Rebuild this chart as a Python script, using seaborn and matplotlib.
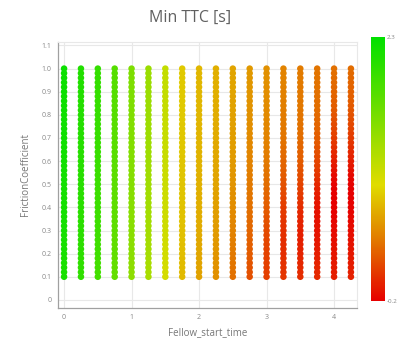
import numpy as np
import pandas as pd
import matplotlib
matplotlib.use("Agg")
import matplotlib.pyplot as plt
from matplotlib.colors import LinearSegmentedColormap, Normalize
from matplotlib.cm import ScalarMappable
import seaborn as sns

# ---------------- data ----------------
fellow_start_time = [0.0, 0.25, 0.5, 0.75, 1.0, 1.25, 1.5, 1.75, 2.0,
                     2.25, 2.5, 2.75, 3.0, 3.25, 3.5, 3.75, 4.0, 4.25]

friction_coefficient = [0.10, 0.12, 0.14, 0.16, 0.18, 0.20, 0.22, 0.24, 0.26, 0.28,
                        0.30, 0.32, 0.34, 0.36, 0.38, 0.40, 0.42, 0.44, 0.46, 0.48,
                        0.50, 0.52, 0.54, 0.56, 0.58, 0.60, 0.62, 0.64, 0.66, 0.68,
                        0.70, 0.72, 0.74, 0.76, 0.78, 0.80, 0.82, 0.84, 0.86, 0.88,
                        0.90, 0.92, 0.94, 0.96, 0.98, 1.00]

# Min TTC per column (bottom -> top)
ttc_t000 = [2.15, 2.15, 2.15, 2.15, 2.15, 2.16, 2.16, 2.16, 2.16, 2.16,
            2.17, 2.17, 2.17, 2.17, 2.17, 2.18, 2.18, 2.18, 2.18, 2.18,
            2.19, 2.19, 2.19, 2.19, 2.19, 2.20, 2.20, 2.20, 2.20, 2.20,
            2.21, 2.21, 2.21, 2.21, 2.21, 2.22, 2.22, 2.22, 2.22, 2.22,
            2.23, 2.23, 2.23, 2.23, 2.23, 2.23]
ttc_t025 = [2.00, 2.00, 2.00, 2.00, 2.00, 2.02, 2.02, 2.02, 2.02, 2.02,
            2.03, 2.03, 2.03, 2.03, 2.03, 2.04, 2.04, 2.04, 2.04, 2.04,
            2.05, 2.05, 2.05, 2.05, 2.05, 2.06, 2.06, 2.06, 2.06, 2.06,
            2.07, 2.07, 2.07, 2.07, 2.07, 2.08, 2.08, 2.08, 2.08, 2.08,
            2.09, 2.09, 2.09, 2.09, 2.09, 2.09]
ttc_t050 = [1.88, 1.88, 1.88, 1.88, 1.88, 1.90, 1.90, 1.90, 1.90, 1.90,
            1.91, 1.91, 1.91, 1.91, 1.91, 1.92, 1.92, 1.92, 1.92, 1.92,
            1.93, 1.93, 1.93, 1.93, 1.93, 1.94, 1.94, 1.94, 1.94, 1.94,
            1.95, 1.95, 1.95, 1.95, 1.95, 1.96, 1.96, 1.96, 1.96, 1.96,
            1.97, 1.97, 1.97, 1.97, 1.97, 1.97]
ttc_t075 = [1.68, 1.68, 1.68, 1.68, 1.68, 1.70, 1.70, 1.70, 1.70, 1.70,
            1.71, 1.71, 1.71, 1.71, 1.71, 1.72, 1.72, 1.72, 1.72, 1.72,
            1.73, 1.73, 1.73, 1.73, 1.73, 1.74, 1.74, 1.74, 1.74, 1.74,
            1.75, 1.75, 1.75, 1.75, 1.75, 1.76, 1.76, 1.76, 1.76, 1.76,
            1.77, 1.77, 1.77, 1.77, 1.77, 1.77]
ttc_t100 = [1.42, 1.42, 1.42, 1.42, 1.42, 1.44, 1.44, 1.44, 1.44, 1.44,
            1.45, 1.45, 1.45, 1.45, 1.45, 1.46, 1.46, 1.46, 1.46, 1.46,
            1.47, 1.47, 1.47, 1.47, 1.47, 1.48, 1.48, 1.48, 1.48, 1.48,
            1.49, 1.49, 1.49, 1.49, 1.49, 1.50, 1.50, 1.50, 1.50, 1.50,
            1.51, 1.51, 1.51, 1.51, 1.51, 1.51]
ttc_t125 = [1.25, 1.25, 1.25, 1.25, 1.25, 1.27, 1.27, 1.27, 1.27, 1.27,
            1.28, 1.28, 1.28, 1.28, 1.28, 1.29, 1.29, 1.29, 1.29, 1.29,
            1.30, 1.30, 1.30, 1.30, 1.30, 1.31, 1.31, 1.31, 1.31, 1.31,
            1.32, 1.32, 1.32, 1.32, 1.32, 1.33, 1.33, 1.33, 1.33, 1.33,
            1.34, 1.34, 1.34, 1.34, 1.34, 1.34]
ttc_t150 = [0.98, 0.98, 0.98, 0.99, 0.99, 1.00, 1.00, 1.00, 1.01, 1.01,
            1.02, 1.02, 1.02, 1.02, 1.02, 1.03, 1.03, 1.03, 1.03, 1.03,
            1.04, 1.04, 1.04, 1.04, 1.04, 1.05, 1.05, 1.05, 1.05, 1.05,
            1.06, 1.06, 1.06, 1.06, 1.06, 1.07, 1.07, 1.07, 1.07, 1.07,
            1.08, 1.08, 1.08, 1.08, 1.08, 1.08]
ttc_t175 = [0.72, 0.72, 0.73, 0.73, 0.73, 0.74, 0.74, 0.74, 0.75, 0.75,
            0.75, 0.75, 0.76, 0.76, 0.76, 0.76, 0.77, 0.77, 0.77, 0.77,
            0.77, 0.78, 0.78, 0.78, 0.78, 0.78, 0.78, 0.79, 0.79, 0.79,
            0.79, 0.79, 0.79, 0.79, 0.80, 0.80, 0.80, 0.80, 0.80, 0.80,
            0.80, 0.80, 0.80, 0.80, 0.80, 0.80]
ttc_t200 = [0.60, 0.60, 0.61, 0.61, 0.62, 0.62, 0.63, 0.63, 0.63, 0.64,
            0.64, 0.64, 0.65, 0.65, 0.65, 0.66, 0.66, 0.66, 0.66, 0.67,
            0.67, 0.67, 0.67, 0.68, 0.68, 0.68, 0.68, 0.68, 0.69, 0.69,
            0.69, 0.69, 0.69, 0.69, 0.70, 0.70, 0.70, 0.70, 0.70, 0.70,
            0.70, 0.70, 0.70, 0.70, 0.70, 0.70]
ttc_t225 = [0.50, 0.51, 0.51, 0.52, 0.52, 0.53, 0.54, 0.54, 0.55, 0.55,
            0.56, 0.56, 0.57, 0.57, 0.58, 0.58, 0.59, 0.59, 0.60, 0.60,
            0.61, 0.61, 0.61, 0.62, 0.62, 0.62, 0.63, 0.63, 0.63, 0.63,
            0.64, 0.64, 0.64, 0.64, 0.65, 0.65, 0.65, 0.65, 0.65, 0.66,
            0.66, 0.66, 0.66, 0.66, 0.66, 0.66]
ttc_t250 = [0.33, 0.34, 0.35, 0.36, 0.37, 0.38, 0.39, 0.40, 0.41, 0.42,
            0.43, 0.44, 0.45, 0.46, 0.47, 0.48, 0.49, 0.50, 0.50, 0.51,
            0.52, 0.53, 0.53, 0.54, 0.55, 0.55, 0.56, 0.56, 0.57, 0.57,
            0.58, 0.58, 0.58, 0.59, 0.59, 0.59, 0.60, 0.60, 0.60, 0.60,
            0.61, 0.61, 0.61, 0.61, 0.61, 0.61]
ttc_t275 = [0.18, 0.19, 0.20, 0.21, 0.22, 0.23, 0.24, 0.25, 0.26, 0.27,
            0.28, 0.29, 0.30, 0.31, 0.32, 0.33, 0.34, 0.35, 0.36, 0.37,
            0.38, 0.39, 0.40, 0.41, 0.42, 0.43, 0.44, 0.45, 0.46, 0.46,
            0.47, 0.48, 0.49, 0.49, 0.50, 0.51, 0.51, 0.52, 0.52, 0.53,
            0.53, 0.54, 0.54, 0.54, 0.55, 0.55]
ttc_t300 = [0.10, 0.10, 0.10, 0.11, 0.11, 0.12, 0.12, 0.13, 0.14, 0.15,
            0.16, 0.17, 0.19, 0.20, 0.22, 0.23, 0.25, 0.26, 0.28, 0.29,
            0.31, 0.32, 0.34, 0.35, 0.36, 0.38, 0.39, 0.40, 0.41, 0.42,
            0.43, 0.44, 0.45, 0.45, 0.46, 0.47, 0.47, 0.48, 0.48, 0.49,
            0.49, 0.49, 0.50, 0.50, 0.50, 0.50]
ttc_t325 = [0.06, 0.05, 0.04, 0.03, 0.03, 0.02, 0.02, 0.02, 0.02, 0.03,
            0.03, 0.04, 0.05, 0.06, 0.08, 0.09, 0.11, 0.13, 0.15, 0.17,
            0.19, 0.21, 0.23, 0.25, 0.27, 0.28, 0.30, 0.31, 0.32, 0.34,
            0.35, 0.36, 0.37, 0.38, 0.39, 0.39, 0.40, 0.41, 0.41, 0.42,
            0.42, 0.42, 0.43, 0.43, 0.43, 0.43]
ttc_t350 = [0.02, 0.01, 0.00, -0.01, -0.02, -0.03, -0.04, -0.04, -0.05, -0.05,
            -0.05, -0.04, -0.03, -0.02, -0.01, 0.01, 0.03, 0.05, 0.08, 0.10,
            0.12, 0.15, 0.17, 0.19, 0.21, 0.23, 0.25, 0.26, 0.28, 0.29,
            0.31, 0.32, 0.33, 0.34, 0.35, 0.35, 0.36, 0.37, 0.37, 0.38,
            0.38, 0.38, 0.39, 0.39, 0.39, 0.39]
ttc_t375 = [0.00, -0.01, -0.02, -0.03, -0.05, -0.06, -0.07, -0.08, -0.09, -0.10,
            -0.11, -0.11, -0.12, -0.12, -0.12, -0.11, -0.10, -0.08, -0.06, -0.04,
            -0.01, 0.02, 0.05, 0.08, 0.11, 0.13, 0.16, 0.18, 0.20, 0.22,
            0.24, 0.25, 0.27, 0.28, 0.29, 0.30, 0.31, 0.32, 0.32, 0.33,
            0.33, 0.34, 0.34, 0.35, 0.35, 0.35]
ttc_t400 = [-0.05, -0.06, -0.07, -0.08, -0.09, -0.10, -0.11, -0.12, -0.13, -0.14,
            -0.15, -0.16, -0.17, -0.18, -0.19, -0.19, -0.20, -0.20, -0.20, -0.20,
            -0.19, -0.17, -0.15, -0.12, -0.09, -0.06, -0.03, 0.00, 0.03, 0.06,
            0.09, 0.12, 0.14, 0.16, 0.18, 0.20, 0.22, 0.24, 0.25, 0.27,
            0.28, 0.29, 0.30, 0.31, 0.32, 0.33]
ttc_t425 = [-0.04, -0.05, -0.06, -0.07, -0.08, -0.09, -0.10, -0.11, -0.12, -0.13,
            -0.14, -0.15, -0.16, -0.17, -0.18, -0.19, -0.19, -0.20, -0.20, -0.20,
            -0.19, -0.18, -0.16, -0.13, -0.10, -0.07, -0.04, -0.01, 0.02, 0.05,
            0.08, 0.10, 0.13, 0.15, 0.17, 0.19, 0.21, 0.22, 0.24, 0.25,
            0.26, 0.27, 0.28, 0.29, 0.30, 0.31]

ttc_columns = [ttc_t000, ttc_t025, ttc_t050, ttc_t075, ttc_t100, ttc_t125,
               ttc_t150, ttc_t175, ttc_t200, ttc_t225, ttc_t250, ttc_t275,
               ttc_t300, ttc_t325, ttc_t350, ttc_t375, ttc_t400, ttc_t425]

x_ticks = [0, 1, 2, 3, 4]
y_ticks = [0, 0.1, 0.2, 0.3, 0.4, 0.5, 0.6, 0.7, 0.8, 0.9, 1.0, 1.1]
y_tick_labels = ["0", "0.1", "0.2", "0.3", "0.4", "0.5", "0.6", "0.7", "0.8", "0.9", "1.0", "1.1"]
ttc_min, ttc_max = -0.2, 2.3

rows = []
for t, col in zip(fellow_start_time, ttc_columns):
    for fc, v in zip(friction_coefficient, col):
        rows.append((t, fc, v))
df = pd.DataFrame(rows, columns=["Fellow_start_time", "FrictionCoefficient", "MinTTC"])

# ---------------- style ----------------
sns.set_style("white")
plt.rcParams["font.family"] = ["Open Sans", "DejaVu Sans"]

cmap = LinearSegmentedColormap.from_list(
    "ttc", [(0.0, "#e60000"), (0.22, "#e27400"), (0.44, "#e0dc00"), (1.0, "#00e000")])
norm = Normalize(ttc_min, ttc_max)

fig = plt.figure(figsize=(3.98, 3.40), dpi=100)
ax = fig.add_axes([58 / 398, 1 - 308 / 340, (357 - 58) / 398, (308 - 42) / 340])

sns.scatterplot(data=df, x="Fellow_start_time", y="FrictionCoefficient",
                hue="MinTTC", palette=cmap, hue_norm=norm, legend=False,
                s=22, linewidth=0, ax=ax, zorder=3)

ax.set_xlim(-0.09, 4.34)
ax.set_ylim(-0.035, 1.115)
ax.set_xticks(x_ticks)
ax.set_yticks(y_ticks)
ax.set_yticklabels(y_tick_labels)
ax.grid(True, color="#e8e8e8", linewidth=0.8, zorder=0)
ax.set_axisbelow(True)
for side in ["top", "right"]:
    ax.spines[side].set_color("#e8e8e8")
    ax.spines[side].set_linewidth(0.8)
for side in ["left", "bottom"]:
    ax.spines[side].set_color("#a0a0a0")
    ax.spines[side].set_linewidth(0.9)
ax.tick_params(axis="both", which="both", direction="out", length=2.5, width=0.7,
               color="#a0a0a0", labelsize=5, labelcolor="#888888", pad=2)
ax.tick_params(axis="x", pad=1.5)
ax.set_xlabel("Fellow_start_time", fontsize=7, color="#777777", labelpad=5)
ax.set_ylabel("FrictionCoefficient", fontsize=7, color="#777777", labelpad=8)

fig.text(190 / 398, 1 - 18 / 340, "Min TTC [s]", ha="center", va="center",
         fontsize=11.5, color="#606060")

cax = fig.add_axes([371 / 398, 1 - 301 / 340, 14 / 398, (301 - 37) / 340])
sm = ScalarMappable(norm=norm, cmap=cmap)
cb = fig.colorbar(sm, cax=cax)
cb.outline.set_visible(False)
cb.set_ticks([ttc_min, ttc_max])
cb.set_ticklabels(["-0.2", "2.3"])
cax.tick_params(length=0, labelsize=4.5, labelcolor="#888888", pad=1)

fig.savefig("out.png", dpi=100)
